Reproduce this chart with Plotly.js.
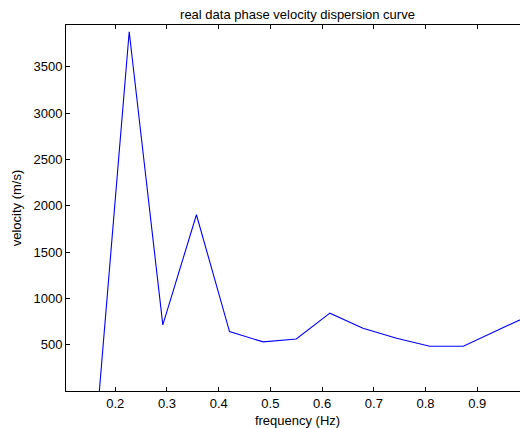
<!DOCTYPE html>
<html>
<head>
<meta charset="utf-8">
<script src="https://cdn.plot.ly/plotly-3.0.1.min.js"></script>
<style>
  html, body { margin: 0; padding: 0; overflow: hidden; background: #fff; }
  #chart { width: 530px; height: 428px; }
</style>
</head>
<body>
<div id="chart"></div>
<script>
// Phase velocity picked at each frequency sample of the real data set
const frequency = [0.162, 0.227, 0.292, 0.357, 0.421, 0.486, 0.550, 0.615, 0.679, 0.744, 0.808, 0.873, 0.937, 1.002];
const velocity  = [-487, 3877, 713, 1902, 641, 530, 562, 840, 678, 570, 483, 483, 651, 817];

const xTicks = [0.2, 0.3, 0.4, 0.5, 0.6, 0.7, 0.8, 0.9];
const yTicks = [500, 1000, 1500, 2000, 2500, 3000, 3500];

const font = { family: 'Liberation Sans, Arial, Helvetica, sans-serif', size: 13, color: '#000' };

const trace = {
  x: frequency,
  y: velocity,
  type: 'scatter',
  mode: 'lines',
  line: { color: '#0000ff', width: 1.1 },
  hoverinfo: 'skip'
};

const layout = {
  width: 530,
  height: 428,
  margin: { l: 66, r: 1, t: 25, b: 37 },
  paper_bgcolor: '#fff',
  plot_bgcolor: '#fff',
  showlegend: false,
  font: font,
  title: {
    text: 'real data phase velocity dispersion curve',
    font: font,
    xref: 'paper',
    x: 0.5,
    xanchor: 'center',
    yref: 'paper',
    y: 1,
    yanchor: 'bottom',
    pad: { b: 6 }
  },
  xaxis: {
    range: [0.1048, 1.0],
    tickvals: xTicks,
    ticktext: xTicks.map(v => v.toFixed(1)),
    ticks: 'inside',
    ticklen: 4,
    tickcolor: '#000',
    showline: true,
    linecolor: '#000',
    linewidth: 1,
    mirror: 'ticks',
    showgrid: false,
    zeroline: false,
    tickfont: font,
    title: { text: 'frequency (Hz)', font: font, standoff: 6 }
  },
  yaxis: {
    range: [0, 3950],
    tickvals: yTicks,
    ticktext: yTicks.map(String),
    ticks: 'inside',
    ticklen: 4,
    tickcolor: '#000',
    showline: true,
    linecolor: '#000',
    linewidth: 1,
    mirror: 'ticks',
    showgrid: false,
    zeroline: false,
    tickfont: font,
    title: { text: 'velocity (m/s)', font: font, standoff: 8 }
  }
};

Plotly.newPlot('chart', [trace], layout, { staticPlot: true, displayModeBar: false });
</script>
</body>
</html>
